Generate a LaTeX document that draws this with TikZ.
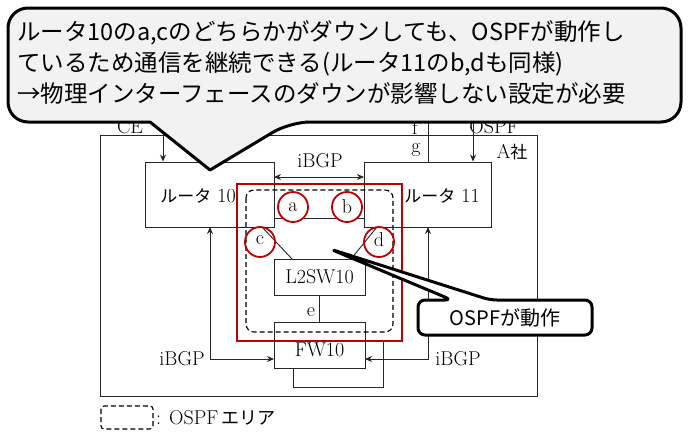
\documentclass[tikz,border=0pt]{standalone}
\usepackage{fontspec}
\newfontfamily\jp{Noto Sans CJK JP}
\usetikzlibrary{arrows.meta}
\definecolor{redc}{HTML}{C00000}
\begin{document}
\begin{tikzpicture}[x=1pt,y=-1pt,
  ln/.style={draw=black!85,line width=0.9pt},
  arr/.style={ln,-{Stealth[length=7pt,width=6pt]}},
  darr/.style={ln,{Stealth[length=7pt,width=6pt]}-{Stealth[length=7pt,width=6pt]}},
  boxn/.style={ln,fill=white,inner sep=0},
  lbl/.style={font=\fontsize{20}{20}\selectfont,inner sep=0},
  circ/.style={draw=redc,line width=1.8pt,circle,minimum size=30pt,inner sep=0,font=\fontsize{20}{20}\selectfont},
  bub/.style={draw=black,line width=3pt,fill=#1,line join=round}]
\useasboundingbox (0,0) rectangle (689,437);
\fill[white] (0,0) rectangle (689,437);
% company box
\draw[ln] (100,135) rectangle (537,396);
\node[lbl] (asha) at (512,152) {A{\jp\fontsize{17}{17}\selectfont 社}};
% top labels (mostly hidden)
\node[lbl] (ce) at (130,127) {CE};
\node[lbl] (f) at (415,127) {f};
\node[lbl] (isp) at (494,127) {OSPF};
% routers
\node[boxn,minimum width=129pt,minimum height=65pt] (r10) at (209.5,194.5) {};
\node[lbl] at (198,196) {{\jp\fontsize{17}{17}\selectfont ルータ} {\fontsize{20}{20}\selectfont 10}};
\node[boxn,minimum width=127pt,minimum height=65pt] (r11) at (427.5,194.5) {};
\node[lbl] at (442,196) {{\jp\fontsize{17}{17}\selectfont ルータ} {\fontsize{20}{20}\selectfont 11}};
\node[boxn,minimum width=91pt,minimum height=36pt,lbl] (sw) at (319.5,277) {L2SW10};
\node[boxn,minimum width=91pt,minimum height=46pt] (fw) at (319.5,345) {};
\node[lbl] at (319.5,350) {FW10};
% top arrows
\coordinate (t1) at (163,120);
\coordinate (t2) at (428,120);
\coordinate (t3) at (473,120);
\draw[arr] (t1) -- (r10.north -| t1);
\draw[ln] (t2) -- (r11.north -| t2);
\draw[arr] (t3) -- (r11.north -| t3);
\node[lbl] (g) at (416,150) {g};
% iBGP between routers
\draw[darr] (274,177) -- (364,177);
\node[lbl] (ib1) at (320,161) {iBGP};
% a-b link
\draw[ln] (274,218) -- (364,218);
\draw[ln] (262,227) -- (292,259);
\draw[ln] (377,227) -- (351,259);
\draw[ln] (sw.south) -- (fw.north);
\node[lbl] (e) at (311,312) {e};
% side iBGP
\draw[darr] (210,227) -- (210,359) -- (274,359);
\draw[darr] (428,227) -- (428,359) -- (365,359);
\node[lbl] (ib2) at (182,359) {iBGP};
\node[lbl] (ib3) at (458,359) {iBGP};
% loop below FW
\draw[ln] (293,368) -- (293,387) -- (383,387) -- (383,342);
% OSPF area
\draw[draw=black,line width=1.1pt,dash pattern=on 5pt off 3pt,rounded corners=8pt] (246,190) rectangle (393,332);
% legend
\draw[draw=black,line width=1.1pt,dash pattern=on 5pt off 3pt,rounded corners=3pt] (101,406) rectangle (153,429);
\node[lbl,anchor=west] (leg) at (156,418) {: OSPF\,{\jp\fontsize{18}{18}\selectfont エリア}};
% red
\draw[redc,line width=2.5pt] (237,184) rectangle (402,341);
\node[circ,fill=white] (a) at (293,207) {a};
\node[circ,fill=white] (b) at (347,207) {b};
\node[circ] (c) at (260,242) {};
\node[lbl] at (260,240) {c};
\node[circ] (d) at (379,242) {};
\node[lbl] at (379,240) {d};
% callout 2
\coordinate (tip2) at (330,249);
\draw[bub=white,rounded corners=7pt] (418,300) -- (452,300) -- (tip2) -- (490,300) -- (592,300) -- (592,335) -- (418,335) -- cycle;
\node[font=\jp\fontsize{20}{20}\selectfont,inner sep=0] (o2) at (505,318) {OSPFが動作};
% callout 1
\coordinate (tip1) at (210,170);
\draw[bub=black!5,rounded corners=20pt] (8,8) -- (681,8) -- (681,122) -- (290,122) [sharp corners]-- (tip1) -- (150,122) [rounded corners=20pt]-- (8,122) -- cycle;
\node[font=\jp\fontsize{23.5}{31}\selectfont,align=left,inner sep=0,anchor=north west] (t) at (17,20)
 {ルータ10のa,cのどちらかがダウンしても、OSPFが動作し\\ているため通信を継続できる(ルータ11のb,dも同様)\\→物理インターフェースのダウンが影響しない設定が必要};
\end{tikzpicture}
\end{document}
